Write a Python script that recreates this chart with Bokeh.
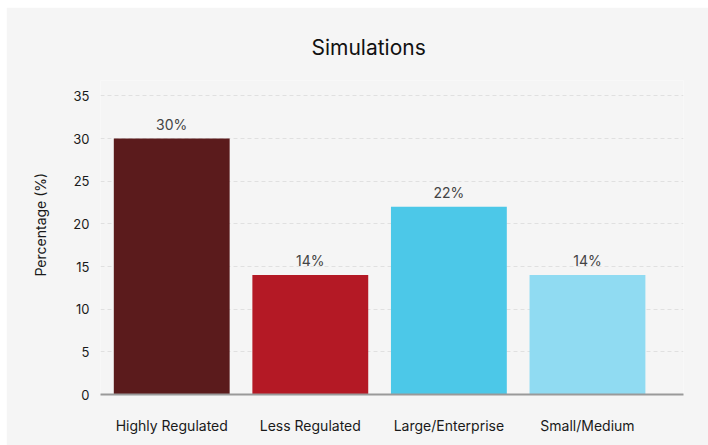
from bokeh.plotting import figure
from bokeh.models import Range1d, FixedTicker, ColumnDataSource, LabelSet, Title
from bokeh.core.properties import value
from bokeh.embed import file_html
from bokeh.resources import INLINE

# Share of simulations by organisation type
categories = ["Highly Regulated", "Less Regulated", "Large/Enterprise", "Small/Medium"]
percentages = [30, 14, 22, 14]
bar_colors = ["#5b1b1c", "#b41925", "#4cc8e8", "#90dbf2"]
y_ticks = [0, 5, 10, 15, 20, 25, 30, 35]

positions = list(range(len(categories)))
value_labels = [f"{v:.0f}%" for v in percentages]

source = ColumnDataSource(dict(
    x=positions, top=percentages, color=bar_colors, label=value_labels,
))

FONT = "Inter"
BG = "#f5f5f5"
TEXT = "#1a1a1a"

p = figure(
    width=702, height=438, margin=(7, 0, 0, 6),
    x_range=Range1d(-0.514, 3.693), y_range=Range1d(0, 36.8),
    output_backend="svg", toolbar_location=None,
    min_border_left=94, min_border_right=25, min_border_top=73, min_border_bottom=51,
    background_fill_color=BG, border_fill_color=BG, outline_line_color=None,
)

# title
p.title.text = "Simulations"
p.title.text_font = FONT
p.title.text_font_size = "21px"
p.title.text_font_style = "normal"
p.title.text_color = "#111111"
p.title.align = "left"
p.title.offset = 211
p.title.standoff = 42

# vertical axis title
p.add_layout(Title(
    text="Percentage (%)", align="left", offset=118, vertical_align="bottom",
    standoff=44, text_font=FONT, text_font_size="14px", text_font_style="normal",
    text_color=TEXT,
), "left")

p.vbar(x="x", top="top", width=0.836, bottom=0, fill_color="color",
       line_color=None, source=source)

p.add_layout(LabelSet(
    x="x", y="top", text="label", source=source, text_align="center",
    text_baseline="alphabetic", y_offset=9, text_font=value(FONT),
    text_font_size="14px", text_color="#444444",
))

# x axis
p.xaxis.ticker = FixedTicker(ticks=positions)
p.xaxis.major_label_overrides = {i: c for i, c in enumerate(categories)}
p.xaxis.major_tick_line_color = None
p.xaxis.minor_tick_line_color = None
p.xaxis.axis_line_color = "#9a9a9a"
p.xaxis.axis_line_width = 2
p.xaxis.major_label_text_font = FONT
p.xaxis.major_label_text_font_size = "14px"
p.xaxis.major_label_text_color = TEXT
p.xaxis.major_label_standoff = 16

# y axis
p.yaxis.ticker = FixedTicker(ticks=y_ticks)
p.yaxis.axis_line_color = None
p.yaxis.major_tick_line_color = None
p.yaxis.minor_tick_line_color = None
p.yaxis.major_label_text_font = FONT
p.yaxis.major_label_text_font_size = "13px"
p.yaxis.major_label_text_color = TEXT
p.yaxis.major_label_standoff = 5

p.xgrid.grid_line_color = None
p.ygrid.grid_line_color = "#e0e0e0"
p.ygrid.grid_line_dash = "4 3"
p.ygrid.grid_line_width = 1

open("out.html", "w").write(file_html(p, INLINE))
